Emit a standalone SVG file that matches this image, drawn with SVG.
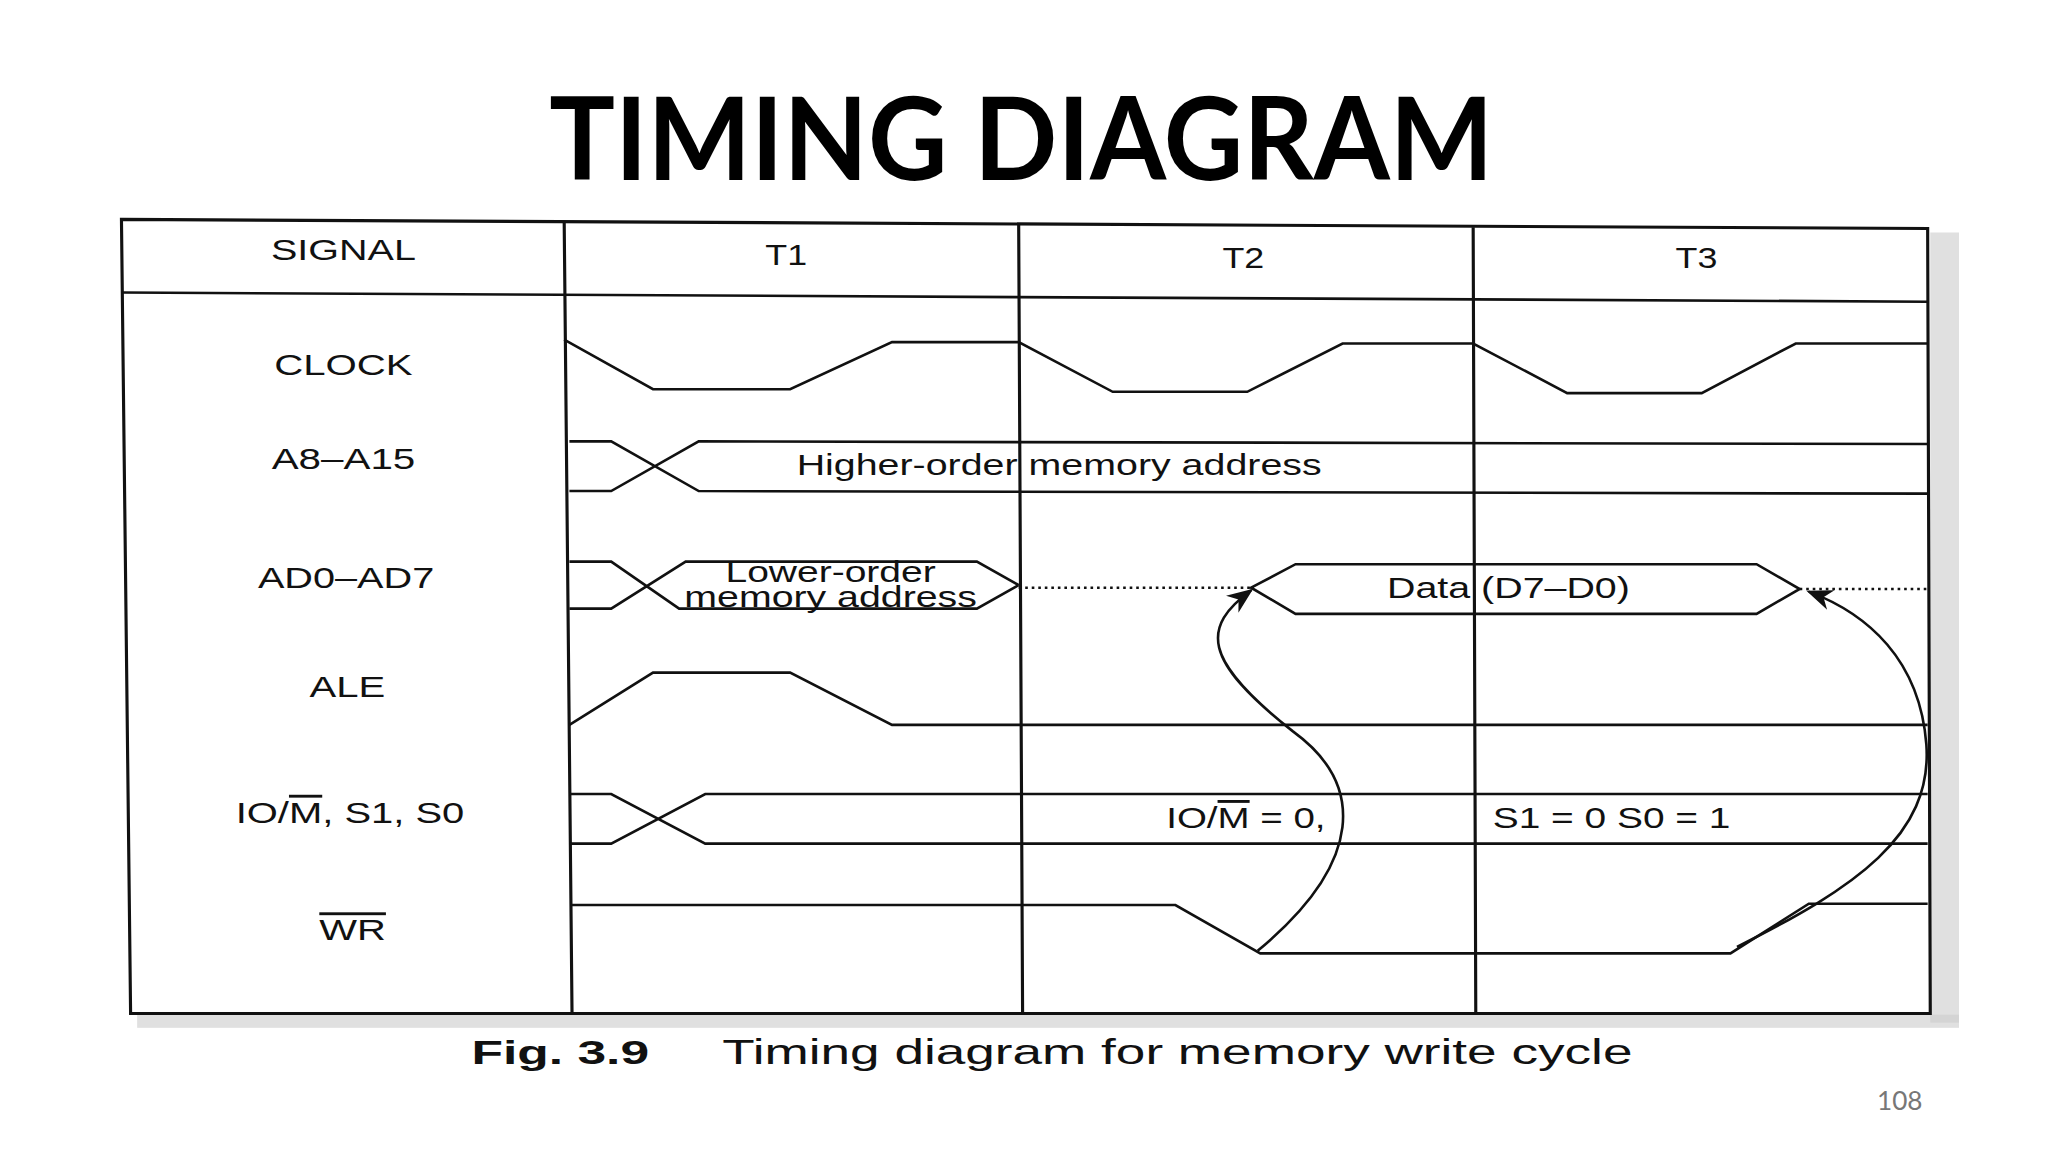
<svg xmlns="http://www.w3.org/2000/svg" width="2048" height="1152" viewBox="0 0 2048 1152">
<defs>
<style>
.l{fill:none;stroke:#111;stroke-width:2}
.g{fill:none;stroke:#111;stroke-width:2.4}
.t{font-family:"Liberation Sans",Arial,sans-serif;fill:#111;font-size:22px;text-anchor:middle}
</style>
<marker id="ah" viewBox="0 0 10 10" refX="9" refY="5" markerWidth="10" markerHeight="10" orient="auto"><path d="M0,1 L10,5 L0,9 L3,5 Z" fill="#111"/></marker>
</defs>
<rect width="2048" height="1152" fill="#fff"/>
<g transform="scale(1.306)">
<text x="782" y="138" font-family="Lato,sans-serif" font-weight="bold" font-size="88" text-anchor="middle" textLength="723" lengthAdjust="spacingAndGlyphs" fill="#000">TIMING DIAGRAM</text>
<rect x="1478" y="178" width="22" height="605" fill="#ccc" opacity="0.6"/>
<rect x="105" y="777" width="1395" height="10" fill="#ccc" opacity="0.6"/>
<g id="grid">
<path class="g" d="M93,168 L1476,175 L1478,776 L100,776 Z"/>
<path class="l" d="M93,224 L1476,231"/>
<path class="g" d="M432,170 L438,776 M780,172 L783,776 M1128,174 L1130,776"/>
</g>
<g id="labels">
<text class="t" x="263" y="199" textLength="111" lengthAdjust="spacingAndGlyphs">SIGNAL</text>
<text class="t" x="602" y="203" textLength="32" lengthAdjust="spacingAndGlyphs">T1</text>
<text class="t" x="952" y="205" textLength="32" lengthAdjust="spacingAndGlyphs">T2</text>
<text class="t" x="1299" y="205" textLength="32" lengthAdjust="spacingAndGlyphs">T3</text>
<text class="t" x="263" y="287" textLength="106" lengthAdjust="spacingAndGlyphs">CLOCK</text>
<text class="t" x="263" y="359" textLength="110" lengthAdjust="spacingAndGlyphs">A8–A15</text>
<text class="t" x="265" y="450" textLength="135" lengthAdjust="spacingAndGlyphs">AD0–AD7</text>
<text class="t" x="266" y="534" textLength="58" lengthAdjust="spacingAndGlyphs">ALE</text>
<text class="t" x="268" y="630" textLength="175" lengthAdjust="spacingAndGlyphs">IO/<tspan text-decoration="overline">M</tspan>, S1, S0</text>
<text class="t" x="270" y="720" textLength="51" lengthAdjust="spacingAndGlyphs" text-decoration="overline">WR</text>
</g>
<g id="clock"><path class="l" d="M432,260 L500,298 L605,298 L683,262 L780,262 L852,300 L955,300 L1028,263 L1128,263 L1200,301 L1303,301 L1375,263 L1476,263"/></g>
<g id="a8a15">
<path class="l" d="M436,338 L468,338 L535,376 L1476,378 M436,376 L468,376 L535,338 L1476,340"/>
<text class="t" x="811" y="364" textLength="402" lengthAdjust="spacingAndGlyphs">Higher-order memory address</text>
</g>
<g id="ad0ad7">
<path class="l" d="M436,430 L468,430 L520,466 L748,466 L780,448 M436,466 L468,466 L525,430 L748,430 L780,448"/>
<text class="t" x="636" y="446" font-size="18" textLength="161" lengthAdjust="spacingAndGlyphs">Lower-order</text>
<text class="t" x="636" y="465" font-size="18" textLength="224" lengthAdjust="spacingAndGlyphs">memory address</text>
<path class="l" d="M780,450 L958,450 M1378,451 L1476,451" stroke-dasharray="2,3" stroke-width="1.5"/>
<path class="l" d="M958,450 L992,432 L1345,432 L1378,451 L1345,470 L992,470 Z"/>
<text class="t" x="1155" y="458" textLength="186" lengthAdjust="spacingAndGlyphs">Data (D7–D0)</text>
</g>
<g id="ale"><path class="l" d="M436,555 L500,515 L605,515 L683,555 L1476,555"/></g>
<g id="iom">
<path class="l" d="M436,608 L468,608 L540,646 L1476,646 M436,646 L468,646 L540,608 L1476,608"/>
<text class="t" x="954" y="634" textLength="122" lengthAdjust="spacingAndGlyphs">IO/<tspan text-decoration="overline">M</tspan> = 0,</text>
<text class="t" x="1234" y="634" textLength="182" lengthAdjust="spacingAndGlyphs">S1 = 0 S0 = 1</text>
</g>
<g id="wr"><path class="l" d="M438,693 L900,693 L965,730 L1325,730 L1385,692 L1476,692"/></g>
<g id="connectors">
<path class="l" d="M963,728 C1045,660 1045,600 990,560 C920,505 920,480 958,452" marker-end="url(#ah)"/>
<path class="l" d="M1330,725 C1420,680 1480,640 1475,570 C1470,505 1430,470 1385,453" marker-end="url(#ah)"/>
</g>
<text x="361" y="815" font-family="Liberation Sans,Arial,sans-serif" font-weight="bold" font-size="26" fill="#111" textLength="136" lengthAdjust="spacingAndGlyphs">Fig. 3.9</text>
<text x="553" y="815" font-family="Liberation Sans,Arial,sans-serif" font-size="27" fill="#111" textLength="697" lengthAdjust="spacingAndGlyphs">Timing diagram for memory write cycle</text>
<text x="1472" y="850" font-family="Lato,sans-serif" font-size="20" fill="#777" text-anchor="end">108</text>
</g>
</svg>
